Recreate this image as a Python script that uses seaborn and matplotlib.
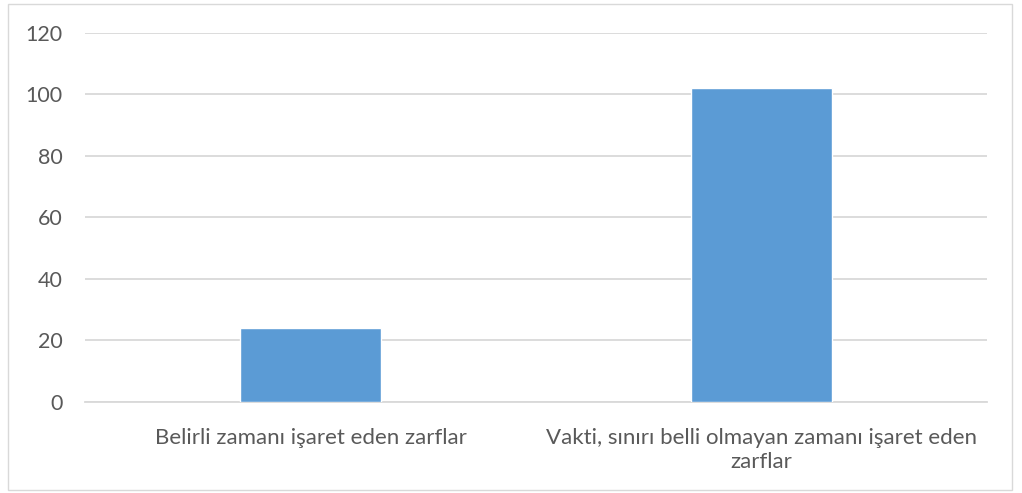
import matplotlib
matplotlib.use("Agg")
import matplotlib.pyplot as plt
import seaborn as sns
import pandas as pd
from matplotlib.patches import Rectangle

# Chart data
categories = ["Belirli zamanı işaret eden zarflar",
              "Vakti, sınırı belli olmayan zamanı işaret eden\nzarflar"]
values = [24, 102]
y_ticks = [0, 20, 40, 60, 80, 100, 120]

df = pd.DataFrame({"category": categories, "value": values})

sns.set_theme(style="white")
plt.rcParams["font.family"] = ["Lato", "DejaVu Sans"]

text_color = "#595959"
grid_color = "#D9D9D9"

fig = plt.figure(figsize=(10.22, 4.93), dpi=100)
ax = fig.add_axes([0.0832, 0.1846, 0.8826, 0.7485])

sns.barplot(data=df, x="category", y="value", color="#5B9BD5",
            width=0.313, saturation=1, ax=ax, zorder=3)

ax.set_ylim(0, 120)
ax.set_xlim(-0.5, 1.5)
ax.set_yticks(y_ticks)
ax.yaxis.grid(True, color=grid_color, linewidth=1.3, zorder=0)
ax.set_axisbelow(True)
for s in ["top", "right", "left"]:
    ax.spines[s].set_visible(False)
ax.spines["bottom"].set_color(grid_color)
ax.spines["bottom"].set_linewidth(1.3)

ax.set_xlabel("")
ax.set_ylabel("")
ax.tick_params(axis="y", length=0, pad=16, labelsize=15.5, labelcolor=text_color)
ax.tick_params(axis="x", length=0, pad=19, labelsize=16, labelcolor=text_color)
for lbl in ax.get_xticklabels():
    lbl.set_linespacing(1.25)

# light frame around the chart area
fig.patches.append(Rectangle((8 / 1022, 3 / 493), 1004 / 1022, 486 / 493,
                             transform=fig.transFigure, fill=False,
                             edgecolor="#D9D9D9", linewidth=1))

fig.savefig("out.png", dpi=100)
